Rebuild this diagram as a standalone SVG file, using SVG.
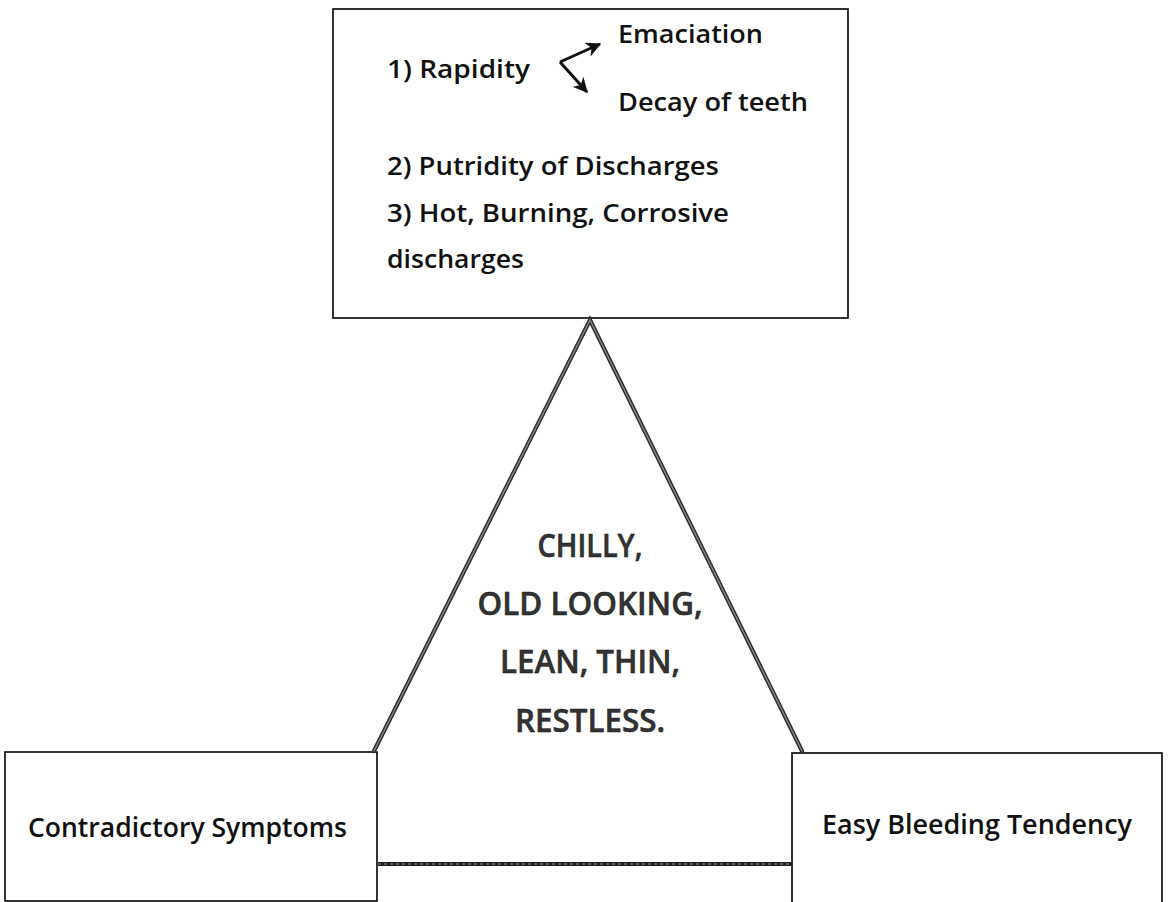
<svg xmlns="http://www.w3.org/2000/svg" width="1168" height="902" viewBox="0 0 1168 902">
<style>
  .box { fill: #ffffff; stroke: #000000; stroke-width: 1.6; }
  .t { font-family: "Open Sans", "Liberation Sans", sans-serif; font-weight: 600; fill: #111111; }
  .s { font-size: 26px; }
  .m { font-size: 27px; }
  .big { font-size: 33px; fill: #333333; stroke: #111111; stroke-width: 0.5; }
  .edge-dark { stroke: #2a2a2a; stroke-width: 4.2; fill: none; stroke-linecap: round; }
  .edge-light { stroke: #8a8a8a; stroke-width: 1.4; fill: none; stroke-linecap: round; }
  .arr { stroke: #111111; stroke-width: 3; fill: none; }
</style>
<defs>
  <marker id="ah" viewBox="0 0 12 12" refX="11" refY="6" markerWidth="5" markerHeight="5" markerUnits="strokeWidth" orient="auto">
    <path d="M0,0 L12,6 L0,12 L3.5,6 z" fill="#111111"/>
  </marker>
</defs>
<rect width="1168" height="902" fill="#ffffff"/>

<g id="top-box">
  <rect class="box" x="333" y="9" width="515" height="309"/>
  <text class="t s" x="387" y="78" textLength="143" lengthAdjust="spacingAndGlyphs">1) Rapidity</text>
  <text class="t s" x="618" y="43" textLength="145" lengthAdjust="spacingAndGlyphs">Emaciation</text>
  <text class="t s" x="618" y="111" textLength="190" lengthAdjust="spacingAndGlyphs">Decay of teeth</text>
  <text class="t s" x="387" y="175" textLength="332" lengthAdjust="spacingAndGlyphs">2) Putridity of Discharges</text>
  <text class="t s" x="387" y="222" textLength="342" lengthAdjust="spacingAndGlyphs">3) Hot, Burning, Corrosive</text>
  <text class="t s" x="387" y="268" textLength="137" lengthAdjust="spacingAndGlyphs">discharges</text>
</g>

<g id="left-box">
  <rect class="box" x="5" y="752" width="372" height="149"/>
  <text class="t m" x="28" y="837" textLength="319" lengthAdjust="spacingAndGlyphs">Contradictory Symptoms</text>
</g>

<g id="right-box">
  <rect class="box" x="792" y="753" width="370" height="152"/>
  <text class="t m" x="822" y="834" textLength="310" lengthAdjust="spacingAndGlyphs">Easy Bleeding Tendency</text>
</g>

<g id="triangle">
  <text class="t big" x="590" y="557" text-anchor="middle" textLength="105" lengthAdjust="spacingAndGlyphs">CHILLY,</text>
  <text class="t big" x="590" y="615" text-anchor="middle" textLength="225" lengthAdjust="spacingAndGlyphs">OLD LOOKING,</text>
  <text class="t big" x="590" y="673" text-anchor="middle" textLength="180" lengthAdjust="spacingAndGlyphs">LEAN, THIN,</text>
  <text class="t big" x="590" y="732" text-anchor="middle" textLength="150" lengthAdjust="spacingAndGlyphs">RESTLESS.</text>
</g>

<g id="connectors">
  <path class="edge-dark" d="M374,751 L590,320 L802,751"/>
  <path class="edge-light" d="M374,751 L590,320 L802,751"/>
  <line x1="378" y1="864" x2="792" y2="864" stroke="#222222" stroke-width="4"/>
  <line x1="378" y1="864" x2="792" y2="864" stroke="#9a9a9a" stroke-width="1" stroke-dasharray="3 3"/>
  <line class="arr" x1="560" y1="62" x2="600" y2="44" marker-end="url(#ah)"/>
  <line class="arr" x1="560" y1="62" x2="587" y2="92" marker-end="url(#ah)"/>
</g>
</svg>
